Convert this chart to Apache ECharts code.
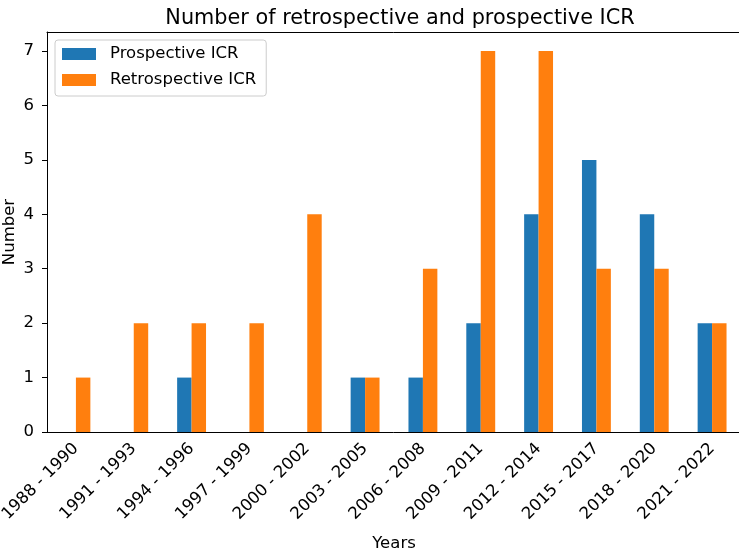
<!DOCTYPE html>
<html>
<head>
<meta charset="utf-8">
<script src="https://cdn.jsdelivr.net/npm/echarts@6/dist/echarts.min.js"></script>
<style>
	html, body { margin: 0; padding: 0; background: #fff; }
	#bar_icr { width: 739px; height: 554px; }
</style>
</head>
<body>
<div id="bar_icr"></div>
<script>
	let years = ['1988 - 1990', '1991 - 1993', '1994 - 1996', '1997 - 1999', '2000 - 2002', '2003 - 2005',
		'2006 - 2008', '2009 - 2011', '2012 - 2014', '2015 - 2017', '2018 - 2020', '2021 - 2022']
	let prospective = [0, 0, 1, 0, 0, 1, 1, 2, 4, 5, 4, 2]
	let retrospective = [1, 2, 2, 2, 4, 1, 3, 7, 7, 3, 3, 2]

	let font = 'DejaVu Sans'
	let chart = echarts.init(document.getElementById('bar_icr'))
	chart.setOption({
		animation: false,
		textStyle: { fontFamily: font },
		title: {
			text: 'Number of retrospective and prospective ICR',
			left: 395,
			textAlign: 'center',
			top: 3,
			textStyle: { fontFamily: font, fontSize: 20.8, fontWeight: 'normal', color: '#000' }
		},
		legend: {
			left: 55,
			top: 40,
			orient: 'vertical',
			itemWidth: 34,
			itemHeight: 12,
			itemGap: 8,
			padding: [5, 10, 7, 7],
			borderColor: '#cccccc',
			borderWidth: 1,
			borderRadius: 3,
			backgroundColor: '#fff',
			textStyle: { fontFamily: font, fontSize: 16.5, color: '#000', lineHeight: 18, padding: [0, 0, 0, 9] },
			icon: 'rect',
			data: ['Prospective ICR', 'Retrospective ICR']
		},
		grid: {
			left: 47,
			top: 32,
			right: -2,
			bottom: 122,
			outerBoundsMode: 'none',
			containLabel: false
		},
		xAxis: [{
			type: 'category',
			data: years,
			name: 'Years',
			nameLocation: 'middle',
			nameGap: 103,
			nameMoveOverlap: false,
			nameTextStyle: { fontFamily: font, fontSize: 16.5, color: '#000' },
			axisLine: { lineStyle: { color: '#000' } },
			axisTick: { alignWithLabel: true, length: 5, lineStyle: { color: '#000' } },
			axisLabel: { rotate: 45, fontSize: 16.5, color: '#000', margin: 14, interval: 0 }
		}, {
			// top frame line
			type: 'category',
			data: years,
			position: 'top',
			axisLine: { show: true, lineStyle: { color: '#000' } },
			axisTick: { show: false },
			axisLabel: { show: false }
		}],
		yAxis: {
			type: 'value',
			min: 0,
			max: 7.35,
			interval: 1,
			name: 'Number',
			nameLocation: 'middle',
			nameGap: 29,
			nameRotate: 90,
			nameMoveOverlap: false,
			nameTextStyle: { fontFamily: font, fontSize: 16.5, color: '#000' },
			splitLine: { show: false },
			axisLine: { show: true, lineStyle: { color: '#000' } },
			axisTick: { show: true, length: 5, lineStyle: { color: '#000' } },
			axisLabel: {
				fontSize: 16.5,
				color: '#000',
				margin: 13,
				showMaxLabel: false,
				formatter: function (v) { return Number.isInteger(v) ? String(v) : '' }
			}
		},
		series: [{
			name: 'Prospective ICR',
			type: 'bar',
			data: prospective,
			barWidth: 14.45,
			barGap: '0%',
			itemStyle: { color: '#1f77b4' }
		}, {
			name: 'Retrospective ICR',
			type: 'bar',
			data: retrospective,
			barWidth: 14.45,
			barGap: '0%',
			itemStyle: { color: '#ff7f0e' }
		}]
	})
</script>
</body>
</html>
